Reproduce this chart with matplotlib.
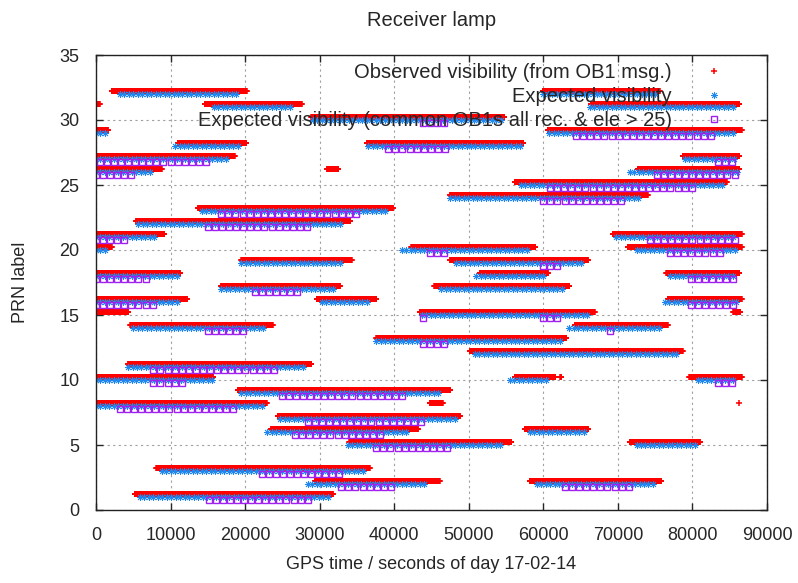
import numpy as np
import matplotlib
matplotlib.use("Agg")
import matplotlib.pyplot as plt

# passes: (PRN, start sec, end sec)
observed = [
    (32, 2100, 20200), (32, 59900, 75600),
    (31, 0, 500), (31, 14600, 27600), (31, 66400, 86300),
    (30, 28900, 54800),
    (29, 0, 1600), (29, 60600, 86600),
    (28, 11000, 20200), (28, 36300, 57300),
    (27, 0, 18600), (27, 78700, 86300),
    (26, 0, 8800), (26, 31000, 32500), (26, 72700, 86300),
    (25, 56200, 84600),
    (24, 47500, 74000),
    (23, 13700, 39800),
    (22, 5400, 34100),
    (21, 0, 9200), (21, 69300, 86600),
    (20, 0, 2100), (20, 42300, 58900), (20, 71300, 86600),
    (19, 19500, 34300), (19, 47500, 66000),
    (18, 0, 11300), (18, 51500, 60600), (18, 76500, 86300),
    (17, 16800, 32700), (17, 45400, 63500),
    (16, 0, 12200), (16, 29600, 37600), (16, 76700, 86600),
    (15, 0, 4300), (15, 43400, 66900), (15, 85500, 86400),
    (14, 4600, 23700), (14, 64200, 76700),
    (13, 37600, 63100),
    (12, 50100, 78700),
    (11, 4300, 28900),
    (10, 0, 15700), (10, 56200, 61600), (10, 62300, 62400), (10, 79600, 86600),
    (9, 19000, 47500),
    (8, 0, 22900), (8, 44800, 46500), (8, 86300, 86300),
    (7, 24400, 48800),
    (6, 23500, 43200), (6, 57500, 66000),
    (5, 34000, 55700), (5, 71600, 81000),
    (3, 8100, 36700),
    (2, 29400, 46100), (2, 58200, 75800),
    (1, 5200, 31800),
]

expected = [
    (32, 3200, 19000), (32, 60000, 75400),
    (31, 15800, 26400), (31, 66200, 85700),
    (30, 29100, 54600),
    (29, 0, 1200), (29, 60800, 85700),
    (28, 10600, 19300), (28, 36500, 57000),
    (27, 0, 17600), (27, 79000, 85900),
    (26, 0, 7500), (26, 71600, 86000),
    (25, 57000, 84400),
    (24, 47500, 73200),
    (23, 14200, 39100),
    (22, 5700, 32900),
    (21, 0, 8300), (21, 69800, 85700),
    (20, 0, 1200), (20, 41000, 58100), (20, 72500, 86000),
    (19, 19500, 32900), (19, 48300, 65100),
    (18, 0, 11000), (18, 51000, 60400), (18, 77000, 85900),
    (17, 16800, 31800), (17, 46300, 62600),
    (16, 0, 11000), (16, 30300, 36300), (16, 76300, 85900),
    (15, 43700, 66000),
    (14, 5000, 22900), (14, 63500, 75800),
    (13, 37600, 62400),
    (12, 50800, 77800),
    (11, 4300, 28200),
    (10, 0, 15700), (10, 55500, 60600), (10, 80700, 85700),
    (9, 19500, 46300),
    (8, 0, 22200),
    (7, 24700, 48100),
    (6, 23000, 41800), (6, 58200, 65800),
    (5, 33800, 54400), (5, 72500, 80500),
    (3, 8800, 36300),
    (2, 28400, 44300), (2, 59100, 75200),
    (1, 5900, 31100),
]

common = [
    (30, 43800, 47000),
    (29, 64400, 83200),
    (28, 39200, 47200),
    (27, 500, 14800), (27, 83400, 86000),
    (26, 0, 5000), (26, 75200, 86000),
    (25, 60900, 80600),
    (24, 60000, 70500),
    (23, 16800, 35600),
    (22, 15000, 29100),
    (21, 0, 3900), (21, 74300, 85900),
    (20, 44800, 47200), (20, 77000, 84100),
    (19, 60000, 62400),
    (18, 0, 7500), (18, 79800, 85900),
    (17, 21300, 27300),
    (16, 0, 8300), (16, 79800, 85900),
    (15, 43800, 44500), (15, 60000, 62400),
    (14, 15000, 20200), (14, 68900, 69800),
    (13, 43800, 47200),
    (11, 7700, 24700),
    (10, 7700, 12200), (10, 83400, 86000),
    (9, 24900, 41900),
    (8, 3200, 19300),
    (7, 28400, 44300),
    (6, 26700, 39000),
    (5, 37600, 47200),
    (3, 22200, 32700),
    (2, 32900, 39900), (2, 62900, 71600),
    (1, 15100, 28500),
]

labels = ["Observed visibility (from OB1 msg.)",
          "Expected visibility",
          "Expected visibility (common OB1s all rec. & ele > 25)"]


def epochs(passes, step):
    xs, ys = [], []
    for prn, t0, t1 in passes:
        t = np.arange(t0, t1 + 1, step)
        xs.extend(t)
        ys.extend([prn] * len(t))
    return np.array(xs), np.array(ys, dtype=float)


txt = "#262626"
narrow = ["Liberation Sans Narrow", "Liberation Sans", "DejaVu Sans"]
wide = ["Liberation Sans", "DejaVu Sans"]

fig = plt.figure(figsize=(7.98, 5.83), dpi=100)
ax = fig.add_axes([96 / 798, 1 - 510 / 583, 671 / 798, 455 / 583])

x, y = epochs(observed, 30)
ax.plot(x, y + 0.2, ls="none", marker="+", ms=4.8, mew=1.1, color="#ff0000", label=labels[0])
x, y = epochs(expected, 600)
ax.plot(x, y, ls="none", marker=(8, 2, 0), ms=5, mew=0.6, color="#1e88f0", label=labels[1])
x, y = epochs(common, 950)
ax.plot(x, y - 0.2, ls="none", marker="s", ms=3.9, mew=1, mfc="none", color="#a020f0", label=labels[2])

ax.set_xlim(0, 90000)
ax.set_ylim(0, 35)
ax.set_xticks(np.arange(0, 90001, 10000))
ax.set_yticks(np.arange(0, 36, 5))
ax.grid(True, color="#a0a0a0", linestyle=(0, (2, 3)), linewidth=0.8)
ax.set_axisbelow(True)
ax.tick_params(direction="in", length=5, width=1, top=True, right=True, colors=txt, pad=12)
for t in ax.get_xticklabels() + ax.get_yticklabels():
    t.set_family(narrow)
    t.set_fontsize(13)
for s in ax.spines.values():
    s.set_color("#222222")
    s.set_linewidth(1)

ax.set_xlabel("GPS time / seconds of day 17-02-14", family=narrow, fontsize=13, color=txt, labelpad=9)
ax.set_ylabel("PRN label", family=narrow, fontsize=13, color=txt, labelpad=22)
ax.set_title("Receiver lamp", family=wide, fontsize=14.5, color=txt, pad=21)

leg = ax.legend(loc="upper right", bbox_to_anchor=(0.948, 0.983), markerfirst=False, frameon=False,
                handlelength=1.8, handletextpad=1.2, labelspacing=0.25, borderpad=0, borderaxespad=0,
                numpoints=1, prop={"family": wide, "size": 14.5})
for t in leg.get_texts():
    t.set_color(txt)

fig.savefig("out.png", dpi=100)
